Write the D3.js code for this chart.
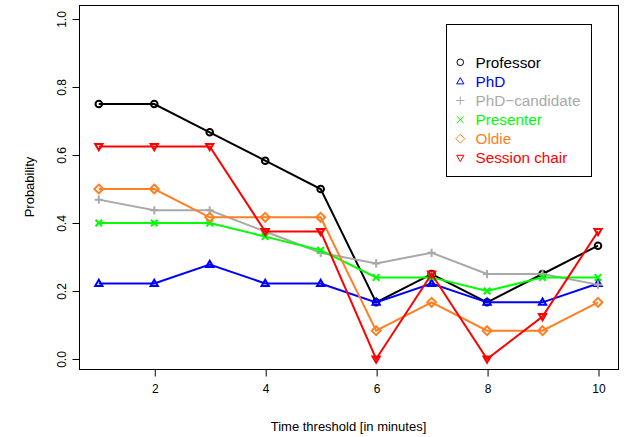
<!DOCTYPE html>
<html>
<head>
<meta charset="utf-8">
<script src="https://cdn.jsdelivr.net/npm/d3@7"></script>
<style>
  html, body { margin: 0; padding: 0; background: #fff; }
  svg { display: block; font-family: "Liberation Sans", Arial, Helvetica, sans-serif; }
</style>
</head>
<body>
<svg id="chart" width="633" height="437"></svg>
<script>
// Time thresholds (minutes)
const thresholds = [1, 2, 3, 4, 5, 6, 7, 8, 9, 10];

// Probability per role at each threshold
const professor    = [0.75, 0.75, 0.6667, 0.5833, 0.5, 0.1667, 0.25, 0.1667, 0.25, 0.3333];
const phd          = [0.2222, 0.2222, 0.2778, 0.2222, 0.2222, 0.1667, 0.2222, 0.1667, 0.1667, 0.2222];
const phdCandidate = [0.46875, 0.4375, 0.4375, 0.375, 0.3125, 0.28125, 0.3125, 0.25, 0.25, 0.21875];
const presenter    = [0.4, 0.4, 0.4, 0.36, 0.32, 0.24, 0.24, 0.2, 0.24, 0.24];
const oldie        = [0.5, 0.5, 0.4167, 0.4167, 0.4167, 0.0833, 0.1667, 0.0833, 0.0833, 0.1667];
const sessionChair = [0.625, 0.625, 0.625, 0.375, 0.375, 0, 0.25, 0, 0.125, 0.375];

const seriesNames  = ["Professor", "PhD", "PhD\u2212candidate", "Presenter", "Oldie", "Session chair"];
const seriesValues = [professor, phd, phdCandidate, presenter, oldie, sessionChair];
const seriesColors = ["#000000", "#0000FF", "#A9A9A9", "#00FF00", "#FF7F24", "#FF0000"];
const seriesShapes = ["circle", "triangleUp", "plus", "cross", "diamond", "triangleDown"];

const xTicks = [2, 4, 6, 8, 10];
const yTicks = [0.0, 0.2, 0.4, 0.6, 0.8, 1.0];

const svg = d3.select("#chart");

// plot frame
const box = { left: 79, right: 618, top: 5, bottom: 369 };

const x = d3.scaleLinear().domain([1, 10]).range([98.8, 598]);
const y = d3.scaleLinear().domain([0, 1]).range([359, 19]);

// frame
svg.append("rect")
  .attr("x", box.left + 0.5).attr("y", box.top + 0.5)
  .attr("width", box.right - box.left).attr("height", box.bottom - box.top)
  .attr("fill", "none").attr("stroke", "#000").attr("stroke-width", 1);

// x axis
const xAxis = svg.append("g")
  .attr("transform", `translate(0.5,${box.bottom + 0.5})`)
  .call(d3.axisBottom(x).tickValues(xTicks).tickSize(7).tickPadding(8).tickFormat(d3.format("d")));
xAxis.select(".domain").attr("d", `M${x(2)},0H${x(10)}`);
xAxis.selectAll("text").attr("font-size", 12).attr("fill", "#000").attr("font-family", null);

// y axis with rotated tick labels
const yAxis = svg.append("g")
  .attr("transform", `translate(${box.left + 0.5},0.5)`)
  .call(d3.axisLeft(y).tickValues(yTicks).tickSize(7).tickFormat(d3.format(".1f")));
yAxis.select(".domain").attr("d", `M0,${y(0)}V${y(1)}`);
yAxis.selectAll(".tick").attr("transform", null);
yAxis.selectAll(".tick line").attr("transform", d => `translate(0,${y(d)})`);
yAxis.selectAll("text")
  .attr("font-size", 12).attr("fill", "#000").attr("font-family", null)
  .attr("text-anchor", "middle")
  .attr("x", null).attr("y", 0).attr("dy", "0.35em")
  .attr("transform", d => `translate(-18,${y(d)}) rotate(-90)`);

// axis titles
svg.append("text")
  .attr("x", (box.left + box.right) / 2).attr("y", 431)
  .attr("text-anchor", "middle").attr("font-size", 13)
  .text("Time threshold [in minutes]");
svg.append("text")
  .attr("transform", `translate(34,${(box.top + box.bottom) / 2}) rotate(-90)`)
  .attr("text-anchor", "middle").attr("font-size", 13)
  .text("Probability");

// marker outline for each plotting symbol
function markerPath(shape, r) {
  switch (shape) {
    case "circle":
      return `M${r},0A${r},${r} 0 1,1 ${-r},0A${r},${r} 0 1,1 ${r},0Z`;
    case "triangleUp":
      return `M0,${-r * 1.15}L${r * 1.1},${r * 0.75}L${-r * 1.1},${r * 0.75}Z`;
    case "triangleDown":
      return `M0,${r * 1.15}L${r * 1.1},${-r * 0.75}L${-r * 1.1},${-r * 0.75}Z`;
    case "plus":
      return `M${-r * 1.25},0H${r * 1.25}M0,${-r * 1.25}V${r * 1.25}`;
    case "cross":
      return `M${-r},${-r}L${r},${r}M${-r},${r}L${r},${-r}`;
    case "diamond":
      return `M0,${-r * 1.35}L${r * 1.35},0L0,${r * 1.35}L${-r * 1.35},0Z`;
  }
}

const line = d3.line().x((d, i) => x(thresholds[i])).y(d => y(d));

const plot = svg.append("g");
seriesValues.forEach((vals, k) => {
  const g = plot.append("g");
  g.append("path")
    .attr("d", line(vals))
    .attr("fill", "none")
    .attr("stroke", seriesColors[k])
    .attr("stroke-width", 2);
  g.selectAll("path.pt")
    .data(vals)
    .join("path")
    .attr("class", "pt")
    .attr("transform", (d, i) => `translate(${x(thresholds[i])},${y(d)})`)
    .attr("d", markerPath(seriesShapes[k], 3.3))
    .attr("fill", "none")
    .attr("stroke", seriesColors[k])
    .attr("stroke-width", 2);
});

// legend
const legend = svg.append("g");
legend.append("rect")
  .attr("x", 446.5).attr("y", 24.5).attr("width", 145).attr("height", 152)
  .attr("fill", "#fff").attr("stroke", "#000").attr("stroke-width", 1);
seriesNames.forEach((name, k) => {
  const cy = 62.3 + k * 19.1;
  legend.append("path")
    .attr("transform", `translate(460.3,${cy})`)
    .attr("d", markerPath(seriesShapes[k], 3.3))
    .attr("fill", "none")
    .attr("stroke", seriesColors[k])
    .attr("stroke-width", 1);
  legend.append("text")
    .attr("x", 475.5).attr("y", cy).attr("dy", "0.36em")
    .attr("font-size", 15.3)
    .attr("fill", seriesColors[k])
    .text(name);
});
</script>
</body>
</html>
